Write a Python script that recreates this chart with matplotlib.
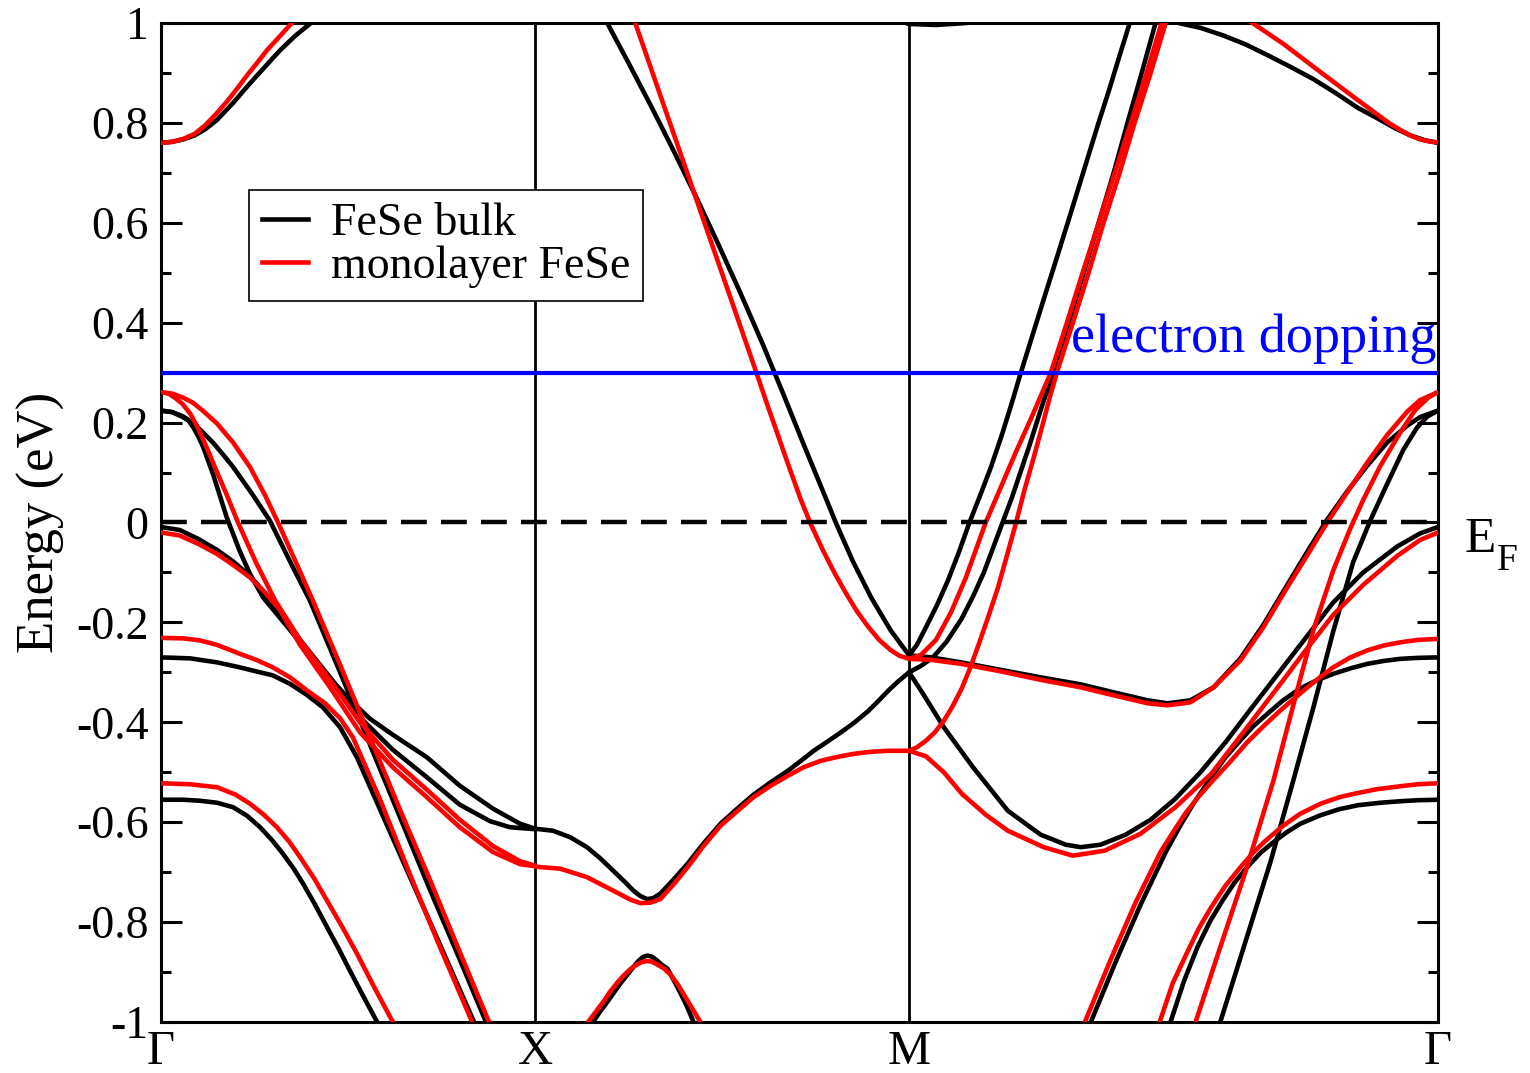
import numpy as np
import matplotlib
matplotlib.use("Agg")
import matplotlib.pyplot as plt
from matplotlib.ticker import MultipleLocator
from matplotlib.lines import Line2D
from matplotlib.transforms import blended_transform_factory

# k path Gamma-X-M-Gamma, k in units of |Gamma-X|
k_sym = [0.0, 1.0, 2.0, 2.0 + np.sqrt(2.0)]
k_labels = ["Γ", "X", "M", "Γ"]

ytick_values = [-1.0, -0.8, -0.6, -0.4, -0.2, 0.0, 0.2, 0.4, 0.6, 0.8, 1.0]
ytick_labels = ["-1", "-0.8", "-0.6", "-0.4", "-0.2", "0", "0.2", "0.4", "0.6", "0.8", "1"]

fermi_level = 0.0
doping_level = 0.3

# ---------------- FeSe bulk (black) ----------------
# Gamma - X
gx_bulk_top_k = [0, 0.03, 0.06, 0.09, 0.118, 0.15, 0.193, 0.225, 0.257, 0.29, 0.318, 0.36, 0.401, 0.42]
gx_bulk_top_e = [0.76, 0.762, 0.767, 0.775, 0.787, 0.806, 0.84, 0.868, 0.895, 0.922, 0.945, 0.975, 1.0, 1.012]

gx_bulk_c_k = [0, 0.03, 0.06, 0.086, 0.11, 0.139, 0.165, 0.193, 0.243, 0.291, 0.353, 0.398, 0.479, 0.559, 0.639, 0.719, 0.799, 0.869, 0.880]
gx_bulk_c_e = [0.224, 0.221, 0.212, 0.199, 0.182, 0.16, 0.137, 0.111, 0.058, 0.004, -0.09, -0.156, -0.30, -0.445, -0.59, -0.735, -0.875, -1.0, -1.02]

gx_bulk_d_k = [0, 0.03, 0.059, 0.075, 0.086, 0.1, 0.113, 0.14, 0.176, 0.211, 0.238, 0.273, 0.345, 0.425, 0.505, 0.559, 0.620, 0.711, 0.799, 0.888, 0.960, 1.0]
gx_bulk_d_e = [0.224, 0.221, 0.211, 0.203, 0.191, 0.172, 0.151, 0.095, 0.01, -0.058, -0.103, -0.15, -0.215, -0.29, -0.355, -0.393, -0.425, -0.47, -0.527, -0.573, -0.603, -0.613]

gx_bulk_e_k = [0, 0.05, 0.1, 0.15, 0.193, 0.227, 0.257, 0.305, 0.372, 0.452, 0.532, 0.620, 0.711, 0.799, 0.880, 0.933, 1.0]
gx_bulk_e_e = [-0.009, -0.015, -0.033, -0.055, -0.078, -0.1, -0.123, -0.168, -0.235, -0.31, -0.39, -0.455, -0.51, -0.565, -0.598, -0.61, -0.614]

gx_bulk_f_k = [0, 0.078, 0.150, 0.211, 0.265, 0.299, 0.345, 0.390, 0.433, 0.479, 0.524, 0.586, 0.666, 0.746, 0.837, 0.848]
gx_bulk_f_e = [-0.27, -0.272, -0.28, -0.29, -0.30, -0.306, -0.323, -0.345, -0.37, -0.41, -0.47, -0.575, -0.71, -0.845, -1.0, -1.02]

gx_bulk_g_k = [0, 0.06, 0.104, 0.15, 0.193, 0.23, 0.265, 0.296, 0.326, 0.355, 0.380, 0.412, 0.444, 0.475, 0.505, 0.54, 0.578, 0.586]
gx_bulk_g_e = [-0.555, -0.555, -0.557, -0.561, -0.57, -0.587, -0.61, -0.635, -0.663, -0.693, -0.723, -0.765, -0.81, -0.853, -0.897, -0.947, -1.0, -1.012]

# X - M
xm_bulk_top_k = [1.180, 1.193, 1.25, 1.31, 1.37, 1.43, 1.49, 1.55, 1.61, 1.665, 1.72, 1.78, 1.804, 1.85, 1.90, 1.95, 2.0]
xm_bulk_top_e = [1.019, 1.0, 0.92, 0.834, 0.745, 0.653, 0.557, 0.458, 0.355, 0.255, 0.153, 0.044, 0.0, -0.078, -0.152, -0.215, -0.266]

xm_bulk_mid_k = [1.0, 1.048, 1.094, 1.139, 1.174, 1.209, 1.241, 1.263, 1.282, 1.300, 1.316, 1.335, 1.370, 1.408, 1.450,
                 1.496, 1.542, 1.584, 1.630, 1.676, 1.711, 1.745, 1.783, 1.818, 1.853, 1.890, 1.917, 1.944, 1.971, 2.0]
xm_bulk_mid_e = [-0.613, -0.617, -0.63, -0.65, -0.672, -0.697, -0.72, -0.737, -0.748, -0.754, -0.752, -0.743, -0.715, -0.683, -0.643,
                 -0.603, -0.572, -0.545, -0.52, -0.497, -0.477, -0.457, -0.438, -0.42, -0.401, -0.378, -0.358, -0.337, -0.318, -0.30]

xm_bulk_low_k = [1.142, 1.155, 1.175, 1.193, 1.21, 1.228, 1.245, 1.263, 1.275, 1.288, 1.300, 1.312, 1.325, 1.34, 1.354,
                 1.37, 1.389, 1.407, 1.424, 1.434]
xm_bulk_low_e = [-1.015, -1.0, -0.978, -0.96, -0.942, -0.923, -0.907, -0.89, -0.879, -0.87, -0.867, -0.869, -0.876, -0.886, -0.893,
                 -0.915, -0.942, -0.97, -1.0, -1.017]

m_bulk_cap_k = [1.938, 2.0, 2.072, 2.155, 2.205]
m_bulk_cap_e = [1.012, 0.998, 0.996, 1.0, 1.01]

# M - Gamma
mg_bulk_k1_k = [2.0, 2.021, 2.045, 2.075, 2.104, 2.133, 2.160, 2.192, 2.219, 2.248, 2.275, 2.296, 2.328, 2.363, 2.395,
                2.430, 2.467, 2.504, 2.534, 2.563, 2.590, 2.600]
mg_bulk_k1_e = [-0.266, -0.245, -0.21, -0.165, -0.116, -0.06, -0.003, 0.058, 0.111, 0.175, 0.24, 0.293, 0.37, 0.454, 0.53,
                0.614, 0.704, 0.794, 0.864, 0.935, 1.0, 1.025]

mg_bulk_k2_k = [2.0, 2.032, 2.064, 2.101, 2.141, 2.171, 2.200, 2.245, 2.275, 2.320, 2.360, 2.387, 2.427, 2.467, 2.507,
                2.547, 2.584, 2.622, 2.659, 2.667]
mg_bulk_k2_e = [-0.30, -0.287, -0.27, -0.238, -0.192, -0.148, -0.1, -0.01, 0.05, 0.15, 0.244, 0.30, 0.40, 0.50, 0.60,
                0.70, 0.80, 0.90, 1.0, 1.02]

mg_flat_k = [2.0, 2.059, 2.139, 2.245, 2.352, 2.459, 2.547, 2.638, 2.691, 2.752, 2.814, 2.886, 2.947, 3.011, 3.065,
             3.118, 3.171, 3.225, 3.278, 3.332, 3.366, 3.414]
mg_bulk_flat_e = [-0.266, -0.27, -0.28, -0.295, -0.31, -0.324, -0.34, -0.356, -0.362, -0.356, -0.33, -0.272, -0.205, -0.125, -0.058,
                  0.006, 0.062, 0.114, 0.16, 0.194, 0.211, 0.224]

mg_bulk_valley_k = [2.0, 2.035, 2.093, 2.171, 2.264, 2.352, 2.419, 2.459, 2.512, 2.579, 2.646, 2.712, 2.779, 2.846, 2.912,
                    2.979, 3.046, 3.134, 3.214, 3.305, 3.366, 3.414]
mg_bulk_valley_e = [-0.30, -0.34, -0.41, -0.49, -0.577, -0.625, -0.645, -0.65, -0.645, -0.625, -0.595, -0.553, -0.50, -0.44, -0.375,
                    -0.31, -0.245, -0.16, -0.1, -0.048, -0.022, -0.009]

mg_bulk_low_k = [2.475, 2.486, 2.552, 2.619, 2.686, 2.725, 2.760, 2.806, 2.846, 2.886, 2.92, 2.958, 3.0, 3.046, 3.09, 3.134,
                 3.18, 3.225, 3.27, 3.313, 3.36, 3.414]
mg_bulk_low_e = [-1.02, -1.0, -0.88, -0.765, -0.66, -0.607, -0.563, -0.512, -0.47, -0.436, -0.408, -0.383, -0.356, -0.332, -0.316, -0.303,
                 -0.292, -0.283, -0.277, -0.273, -0.271, -0.27]

mg_bulk_steep_k = [2.822, 2.832, 2.899, 2.966, 3.027, 3.081, 3.134, 3.187, 3.233, 3.278, 3.321, 3.358, 3.385, 3.414]
mg_bulk_steep_e = [-1.025, -1.0, -0.84, -0.68, -0.517, -0.37, -0.218, -0.08, 0.004, 0.077, 0.145, 0.19, 0.212, 0.224]

mg_bulk_g_k = [2.688, 2.699, 2.735, 2.771, 2.805, 2.838, 2.87, 2.904, 2.94, 2.979, 3.01, 3.046, 3.1, 3.15, 3.2, 3.26, 3.313, 3.36, 3.414]
mg_bulk_g_e = [-1.02, -1.0, -0.918, -0.85, -0.798, -0.757, -0.721, -0.69, -0.661, -0.637, -0.62, -0.603, -0.586, -0.574, -0.566, -0.561, -0.558, -0.556, -0.555]

mg_bulk_top_k = [2.700, 2.72, 2.78, 2.84, 2.90, 2.96, 3.02, 3.08, 3.14, 3.20, 3.25, 3.30, 3.34, 3.38, 3.414]
mg_bulk_top_e = [1.005, 1.0, 0.99, 0.975, 0.957, 0.935, 0.912, 0.888, 0.86, 0.83, 0.81, 0.789, 0.775, 0.765, 0.76]

# ---------------- monolayer FeSe (red) ----------------
# Gamma - X
gx_mono_top_k = [0, 0.03, 0.06, 0.09, 0.118, 0.15, 0.179, 0.205, 0.23, 0.257, 0.283, 0.316, 0.350, 0.366]
gx_mono_top_e = [0.76, 0.762, 0.768, 0.778, 0.795, 0.82, 0.845, 0.87, 0.895, 0.92, 0.945, 0.972, 1.0, 1.013]

gx_mono_a_k = [0, 0.03, 0.059, 0.085, 0.11, 0.150, 0.193, 0.238, 0.278, 0.313, 0.358, 0.406, 0.479, 0.559, 0.639, 0.719, 0.799, 0.877, 0.888]
gx_mono_a_e = [0.261, 0.258, 0.25, 0.24, 0.225, 0.198, 0.16, 0.111, 0.055, 0.0, -0.075, -0.156, -0.285, -0.43, -0.575, -0.715, -0.86, -1.0, -1.02]

gx_mono_b_k = [0, 0.02, 0.037, 0.058, 0.078, 0.095, 0.112, 0.128, 0.144, 0.176, 0.206, 0.254, 0.305, 0.372, 0.452, 0.532, 0.620,
               0.711, 0.799, 0.888, 0.960, 1.0]
gx_mono_b_e = [0.261, 0.258, 0.25, 0.237, 0.218, 0.195, 0.168, 0.14, 0.111, 0.055, 0.0, -0.08, -0.156, -0.235, -0.315, -0.40, -0.475,
               -0.535, -0.595, -0.648, -0.678, -0.687]

gx_mono_e_k = [0, 0.05, 0.1, 0.150, 0.193, 0.238, 0.278, 0.318, 0.372, 0.452, 0.532, 0.620, 0.711, 0.799, 0.888, 0.960, 1.0]
gx_mono_e_e = [-0.02, -0.026, -0.043, -0.063, -0.085, -0.11, -0.14, -0.175, -0.245, -0.33, -0.42, -0.49, -0.55, -0.61, -0.66, -0.684, -0.688]

gx_mono_f_k = [0, 0.06, 0.104, 0.15, 0.211, 0.255, 0.299, 0.345, 0.390, 0.439, 0.479, 0.513, 0.548, 0.586, 0.666, 0.746, 0.832, 0.842]
gx_mono_f_e = [-0.231, -0.232, -0.236, -0.245, -0.263, -0.275, -0.29, -0.31, -0.336, -0.362, -0.392, -0.43, -0.49, -0.555, -0.705, -0.85, -1.0, -1.02]

gx_mono_g_k = [0, 0.078, 0.150, 0.2, 0.238, 0.275, 0.310, 0.342, 0.372, 0.41, 0.444, 0.485, 0.524, 0.57, 0.620, 0.631]
gx_mono_g_e = [-0.522, -0.524, -0.53, -0.545, -0.563, -0.585, -0.61, -0.638, -0.67, -0.713, -0.757, -0.81, -0.863, -0.93, -1.0, -1.012]

# X - M
xm_mono_top_k = [1.255, 1.268, 1.33, 1.40, 1.46, 1.53, 1.59, 1.62, 1.675, 1.71, 1.737, 1.77, 1.80, 1.83, 1.86, 1.89, 1.92,
                 1.95, 1.975, 2.0]
xm_mono_top_e = [1.03, 1.0, 0.866, 0.715, 0.585, 0.434, 0.304, 0.238, 0.12, 0.047, -0.003, -0.056, -0.1, -0.14, -0.177, -0.208, -0.235,
                 -0.255, -0.267, -0.273]

xm_mono_mid_k = [1.0, 1.067, 1.139, 1.209, 1.255, 1.282, 1.308, 1.335, 1.370, 1.408, 1.450, 1.496, 1.542, 1.584, 1.630,
                 1.676, 1.718, 1.764, 1.810, 1.853, 1.898, 1.944, 2.0]
xm_mono_mid_e = [-0.689, -0.693, -0.71, -0.737, -0.755, -0.762, -0.761, -0.754, -0.725, -0.69, -0.648, -0.607, -0.577, -0.55, -0.527,
                 -0.507, -0.49, -0.477, -0.469, -0.463, -0.459, -0.457, -0.457]

xm_mono_low_k = [1.129, 1.142, 1.162, 1.182, 1.20, 1.220, 1.238, 1.255, 1.27, 1.285, 1.298, 1.312, 1.327, 1.345, 1.362,
                 1.382, 1.402, 1.422, 1.442, 1.453]
xm_mono_low_e = [-1.015, -1.0, -0.98, -0.96, -0.94, -0.921, -0.906, -0.894, -0.886, -0.88, -0.878, -0.879, -0.885, -0.893, -0.905,
                 -0.925, -0.95, -0.975, -1.0, -1.015]

# M - Gamma
mg_mono_r1_k = [2.0, 2.032, 2.072, 2.112, 2.152, 2.205, 2.245, 2.285, 2.326, 2.379, 2.422, 2.464, 2.507, 2.550, 2.593,
                2.635, 2.675, 2.683]
mg_mono_r1_e = [-0.273, -0.265, -0.235, -0.18, -0.11, 0.0, 0.07, 0.14, 0.208, 0.30, 0.40, 0.50, 0.60, 0.70, 0.80,
                0.90, 1.0, 1.02]

mg_mono_r2_k = [2.0, 2.021, 2.045, 2.069, 2.093, 2.117, 2.141, 2.165, 2.189, 2.213, 2.237, 2.261, 2.285, 2.309, 2.334,
                2.355, 2.376, 2.395, 2.438, 2.480, 2.520, 2.563, 2.603, 2.646, 2.686, 2.694]
mg_mono_r2_e = [-0.457, -0.45, -0.437, -0.42, -0.397, -0.367, -0.332, -0.288, -0.238, -0.186, -0.132, -0.068, -0.003, 0.066, 0.132,
                0.19, 0.25, 0.30, 0.40, 0.50, 0.60, 0.70, 0.80, 0.90, 1.0, 1.02]

mg_mono_flat_e = [-0.273, -0.275, -0.283, -0.298, -0.315, -0.33, -0.346, -0.362, -0.366, -0.36, -0.33, -0.276, -0.21, -0.13, -0.065,
                  0.0, 0.06, 0.12, 0.175, 0.222, 0.245, 0.261]

mg_mono_valley_k = [2.0, 2.045, 2.093, 2.141, 2.205, 2.264, 2.360, 2.438, 2.523, 2.619, 2.712, 2.808, 2.904, 3.001, 3.046,
                    3.134, 3.214, 3.305, 3.366, 3.414]
mg_mono_valley_e = [-0.457, -0.468, -0.50, -0.543, -0.585, -0.617, -0.65, -0.667, -0.657, -0.623, -0.57, -0.503, -0.41, -0.315, -0.27,
                    -0.185, -0.125, -0.067, -0.035, -0.02]

mg_mono_low_k = [2.459, 2.470, 2.539, 2.606, 2.672, 2.71, 2.739, 2.775, 2.808, 2.855, 2.904, 2.95, 2.993, 3.03, 3.065, 3.1, 3.134,
                 3.18, 3.225, 3.27, 3.313, 3.36, 3.414]
mg_mono_low_e = [-1.02, -1.0, -0.875, -0.76, -0.66, -0.615, -0.582, -0.548, -0.52, -0.482, -0.44, -0.406, -0.376, -0.352, -0.33, -0.309, -0.29,
                 -0.27, -0.256, -0.246, -0.24, -0.235, -0.233]

mg_mono_steep_k = [2.755, 2.766, 2.832, 2.899, 2.974, 3.038, 3.081, 3.134, 3.179, 3.214, 3.259, 3.313, 3.353, 3.388, 3.414]
mg_mono_steep_e = [-1.025, -1.0, -0.85, -0.70, -0.517, -0.335, -0.215, -0.096, -0.013, 0.045, 0.112, 0.18, 0.225, 0.25, 0.261]

mg_mono_g_k = [2.659, 2.670, 2.705, 2.742, 2.775, 2.808, 2.845, 2.886, 2.92, 2.953, 3.0, 3.046, 3.1, 3.15, 3.190, 3.25, 3.313, 3.36, 3.414]
mg_mono_g_e = [-1.02, -1.0, -0.922, -0.863, -0.812, -0.77, -0.728, -0.69, -0.661, -0.637, -0.607, -0.583, -0.563, -0.55, -0.543, -0.534, -0.528, -0.524, -0.522]

mg_mono_top_k = [2.899, 2.918, 3.001, 3.094, 3.190, 3.286, 3.313, 3.342, 3.366, 3.389, 3.414]
mg_mono_top_e = [1.01, 1.0, 0.958, 0.905, 0.851, 0.798, 0.786, 0.774, 0.767, 0.763, 0.761]

bulk_bands = [
    (gx_bulk_top_k, gx_bulk_top_e), (gx_bulk_c_k, gx_bulk_c_e), (gx_bulk_d_k, gx_bulk_d_e),
    (gx_bulk_e_k, gx_bulk_e_e), (gx_bulk_f_k, gx_bulk_f_e), (gx_bulk_g_k, gx_bulk_g_e),
    (xm_bulk_top_k, xm_bulk_top_e), (xm_bulk_mid_k, xm_bulk_mid_e), (xm_bulk_low_k, xm_bulk_low_e),
    (m_bulk_cap_k, m_bulk_cap_e),
    (mg_bulk_k1_k, mg_bulk_k1_e), (mg_bulk_k2_k, mg_bulk_k2_e), (mg_flat_k, mg_bulk_flat_e),
    (mg_bulk_valley_k, mg_bulk_valley_e), (mg_bulk_low_k, mg_bulk_low_e), (mg_bulk_steep_k, mg_bulk_steep_e),
    (mg_bulk_g_k, mg_bulk_g_e), (mg_bulk_top_k, mg_bulk_top_e),
]
mono_bands = [
    (gx_mono_top_k, gx_mono_top_e), (gx_mono_a_k, gx_mono_a_e), (gx_mono_b_k, gx_mono_b_e),
    (gx_mono_e_k, gx_mono_e_e), (gx_mono_f_k, gx_mono_f_e), (gx_mono_g_k, gx_mono_g_e),
    (xm_mono_top_k, xm_mono_top_e), (xm_mono_mid_k, xm_mono_mid_e), (xm_mono_low_k, xm_mono_low_e),
    (mg_mono_r1_k, mg_mono_r1_e), (mg_mono_r2_k, mg_mono_r2_e), (mg_flat_k, mg_mono_flat_e),
    (mg_mono_valley_k, mg_mono_valley_e), (mg_mono_low_k, mg_mono_low_e), (mg_mono_steep_k, mg_mono_steep_e),
    (mg_mono_g_k, mg_mono_g_e), (mg_mono_top_k, mg_mono_top_e),
]

plt.rcParams['font.family'] = ['Liberation Serif', 'DejaVu Serif']

fig = plt.figure(figsize=(15.3, 10.73), dpi=100)
ax = fig.add_axes([0.1052, 0.0475, 0.8347, 0.9311])

band_lw = 3.3
for k, e in bulk_bands:
    ax.plot(k, e, color='black', lw=band_lw, solid_capstyle='round', solid_joinstyle='round', zorder=3)
for k, e in mono_bands:
    ax.plot(k, e, color='red', lw=band_lw, solid_capstyle='round', solid_joinstyle='round', zorder=3)

# high-symmetry points
for kx in k_sym[1:-1]:
    ax.axvline(kx, color='black', lw=2.0, zorder=2)

ax.axhline(fermi_level, color='black', lw=3.2, ls=(0, (5.8, 3.2)), zorder=4)
ax.axhline(doping_level, color='blue', lw=3.0, zorder=4)
ax.text(k_sym[-1] - 0.004, 0.341, 'electron dopping', color='blue', fontsize=39,
        ha='right', va='baseline', zorder=5)

# E_F label with a hand-placed subscript
trans = blended_transform_factory(ax.transAxes, ax.transData)
ax.text(1.0211, -0.06, 'E', transform=trans, fontsize=37, va='baseline', ha='left')
ax.text(1.0462, -0.096, 'F', transform=trans, fontsize=27, va='baseline', ha='left')

ax.set_xlim(k_sym[0], k_sym[-1])
ax.set_ylim(-1, 1)
ax.set_xticks(k_sym)
ax.set_xticklabels(k_labels)
ax.set_yticks(ytick_values)
ax.set_yticklabels(ytick_labels)
ax.yaxis.set_minor_locator(MultipleLocator(0.1))
ax.tick_params(axis='x', length=0, labelsize=35, pad=6)
ax.tick_params(axis='y', which='major', direction='in', length=15, width=2.2,
               left=True, right=True, labelsize=33, pad=9)
ax.tick_params(axis='y', which='minor', direction='in', length=7.5, width=2.2,
               left=True, right=True)
for s in ax.spines.values():
    s.set_linewidth(2.2)
ax.set_ylabel('Energy (eV)', fontsize=38)
ax.yaxis.set_label_coords(-0.075, 0.5)

handles = [Line2D([], [], color='black', lw=band_lw), Line2D([], [], color='red', lw=band_lw)]
leg = ax.legend(handles, ['FeSe bulk', 'monolayer FeSe'], loc='upper left',
                bbox_to_anchor=(0.0689, 0.8328), borderaxespad=0, fontsize=33,
                frameon=True, fancybox=False, edgecolor='black', framealpha=1,
                handlelength=1.0, handletextpad=0.5, borderpad=0.28, labelspacing=0.0)
leg.get_frame().set_linewidth(1.2)

fig.savefig('out.png', dpi=100)
